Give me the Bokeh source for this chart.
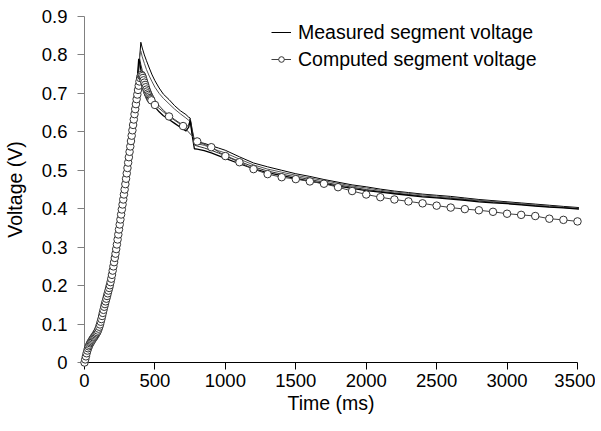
from bokeh.plotting import figure
from bokeh.models import Range1d, FixedTicker, Legend, LegendItem
from bokeh.embed import file_html
from bokeh.resources import INLINE

# ---------------- data ----------------
x_ticks = [0, 500, 1000, 1500, 2000, 2500, 3000, 3500]
y_ticks = [0, 0.1, 0.2, 0.3, 0.4, 0.5, 0.6, 0.7, 0.8, 0.9]
y_tick_labels = ["0", "0.1", "0.2", "0.3", "0.4", "0.5", "0.6", "0.7", "0.8", "0.9"]

# computed segment voltage (time in ms, voltage in V)
comp_t = [0, 5, 10, 15, 20, 25, 30, 35, 40, 45,
          50, 55, 60, 65, 70, 75, 80, 85, 90, 95,
          100, 105, 110, 115, 120, 125, 130, 135, 140, 145,
          150, 155, 160, 165, 170, 175, 180, 185, 190, 195,
          200, 205, 210, 215, 220, 225, 230, 235, 240, 245,
          250, 255, 260, 265, 270, 275, 280, 285, 290, 295,
          300, 305, 310, 315, 320, 325, 330, 335, 340, 345,
          350, 355, 360, 365, 370, 375, 380, 385, 390, 395,
          400, 405, 410, 415, 420, 425, 430, 435, 440, 445,
          450, 455, 460, 465, 470, 475,
          500, 600, 700, 800, 900, 1000, 1100, 1200, 1300, 1400,
          1500, 1600, 1700, 1800, 1900, 2000, 2100, 2200, 2300, 2400,
          2500, 2600, 2700, 2800, 2900, 3000, 3100, 3200, 3300, 3400, 3500]
comp_v = [0.000, 0.008, 0.016, 0.024, 0.031, 0.037, 0.042, 0.046, 0.050, 0.053,
          0.056, 0.059, 0.062, 0.065, 0.067, 0.070, 0.073, 0.076, 0.079, 0.083,
          0.088, 0.093, 0.099, 0.106, 0.113, 0.121, 0.129, 0.137, 0.145, 0.152,
          0.159, 0.166, 0.173, 0.180, 0.187, 0.194, 0.201, 0.209, 0.218, 0.228,
          0.239, 0.250, 0.261, 0.272, 0.283, 0.295, 0.307, 0.320, 0.333, 0.346,
          0.359, 0.372, 0.385, 0.398, 0.411, 0.424, 0.437, 0.450, 0.464, 0.478,
          0.492, 0.506, 0.520, 0.534, 0.548, 0.562, 0.576, 0.590, 0.604, 0.618,
          0.632, 0.646, 0.659, 0.672, 0.685, 0.697, 0.709, 0.720, 0.731, 0.740,
          0.746, 0.748, 0.745, 0.740, 0.734, 0.728, 0.722, 0.716, 0.710, 0.705,
          0.700, 0.696, 0.692, 0.688, 0.685, 0.682,
          0.670, 0.640, 0.615, 0.575, 0.560, 0.537, 0.521, 0.503, 0.490, 0.482,
          0.477, 0.471, 0.465, 0.456, 0.446, 0.437, 0.430, 0.424, 0.419, 0.414,
          0.408, 0.403, 0.399, 0.396, 0.392, 0.387, 0.384, 0.381, 0.374, 0.371, 0.367]

# measured segment voltages (four traces on a shared time base)
meas_t = [0, 10, 20, 30, 45, 60, 80, 100, 120, 140,
          160, 180, 200, 220, 240, 260, 280, 300, 320, 340,
          360, 375, 385, 392, 400, 410, 425, 440, 460, 480,
          500, 530, 560, 600, 640, 680, 720, 740, 750, 765,
          780, 800, 850, 900, 950, 1000, 1100, 1200, 1300, 1400,
          1500, 1600, 1700, 1800, 1900, 2000, 2100, 2200, 2300, 2400,
          2500, 2600, 2700, 2800, 2900, 3000, 3100, 3200, 3300, 3400, 3510]
meas_a = [0.000, 0.020, 0.035, 0.042, 0.050, 0.058, 0.068, 0.085, 0.110, 0.140,
          0.170, 0.200, 0.235, 0.275, 0.325, 0.380, 0.435, 0.490, 0.550, 0.610,
          0.670, 0.720, 0.760, 0.795, 0.833, 0.818, 0.800, 0.785, 0.766, 0.748,
          0.733, 0.714, 0.698, 0.684, 0.668, 0.655, 0.645, 0.638, 0.636, 0.605,
          0.578, 0.574, 0.570, 0.564, 0.558, 0.552, 0.535, 0.519, 0.509, 0.500,
          0.491, 0.484, 0.476, 0.469, 0.462, 0.457, 0.451, 0.446, 0.442, 0.438,
          0.435, 0.432, 0.428, 0.424, 0.421, 0.418, 0.415, 0.412, 0.409, 0.406, 0.403]
meas_b = [0.000, 0.020, 0.035, 0.042, 0.050, 0.058, 0.068, 0.085, 0.110, 0.140,
          0.170, 0.200, 0.235, 0.275, 0.325, 0.380, 0.435, 0.490, 0.550, 0.610,
          0.670, 0.720, 0.765, 0.800, 0.810, 0.795, 0.778, 0.762, 0.745, 0.730,
          0.716, 0.700, 0.687, 0.673, 0.659, 0.647, 0.636, 0.630, 0.634, 0.600,
          0.572, 0.569, 0.565, 0.558, 0.551, 0.545, 0.529, 0.514, 0.503, 0.495,
          0.487, 0.480, 0.473, 0.466, 0.459, 0.454, 0.448, 0.444, 0.440, 0.436,
          0.433, 0.429, 0.426, 0.422, 0.419, 0.416, 0.413, 0.410, 0.407, 0.404, 0.401]
meas_c = [0.000, 0.020, 0.035, 0.042, 0.050, 0.058, 0.068, 0.085, 0.110, 0.140,
          0.170, 0.200, 0.235, 0.275, 0.325, 0.380, 0.435, 0.490, 0.550, 0.610,
          0.670, 0.725, 0.780, 0.790, 0.775, 0.760, 0.740, 0.722, 0.705, 0.692,
          0.682, 0.668, 0.656, 0.643, 0.632, 0.622, 0.612, 0.618, 0.632, 0.595,
          0.566, 0.563, 0.558, 0.552, 0.545, 0.538, 0.523, 0.509, 0.498, 0.490,
          0.483, 0.476, 0.469, 0.462, 0.456, 0.450, 0.445, 0.441, 0.437, 0.433,
          0.430, 0.427, 0.424, 0.420, 0.417, 0.414, 0.411, 0.408, 0.405, 0.403, 0.400]
meas_d = [0.000, 0.020, 0.035, 0.042, 0.050, 0.058, 0.068, 0.085, 0.110, 0.140,
          0.170, 0.200, 0.235, 0.275, 0.325, 0.380, 0.435, 0.490, 0.550, 0.615,
          0.680, 0.740, 0.790, 0.780, 0.762, 0.745, 0.722, 0.705, 0.688, 0.675,
          0.665, 0.652, 0.642, 0.632, 0.622, 0.612, 0.602, 0.612, 0.630, 0.590,
          0.556, 0.555, 0.551, 0.545, 0.538, 0.531, 0.517, 0.504, 0.494, 0.486,
          0.479, 0.472, 0.466, 0.459, 0.453, 0.447, 0.443, 0.439, 0.435, 0.431,
          0.428, 0.425, 0.422, 0.418, 0.415, 0.413, 0.410, 0.407, 0.404, 0.402, 0.399]

assert len(comp_t) == len(comp_v)
for tr in (meas_a, meas_b, meas_c, meas_d):
    assert len(tr) == len(meas_t)

FONT = "Liberation Sans"

p = figure(width=595, height=428, output_backend="svg", toolbar_location=None,
           x_range=Range1d(0, 3500), y_range=Range1d(0, 0.9),
           min_border_left=81, min_border_right=18, min_border_top=16,
           min_border_bottom=66)
p.outline_line_color = None
p.xgrid.visible = False
p.ygrid.visible = False
p.background_fill_color = "white"
p.border_fill_color = "white"

# axes
p.xaxis.ticker = FixedTicker(ticks=x_ticks)
p.yaxis.ticker = FixedTicker(ticks=y_ticks)
p.yaxis.major_label_overrides = dict(zip(y_ticks, y_tick_labels))
for ax in (p.xaxis[0], p.yaxis[0]):
    ax.minor_tick_line_color = None
    ax.major_tick_in = 0
    ax.major_tick_out = 7
    ax.major_label_text_font = FONT
    ax.major_label_text_font_size = "18.5px"
    ax.major_label_text_color = "black"
    ax.axis_label_text_font = FONT
    ax.axis_label_text_font_size = "19.5px"
    ax.axis_label_text_font_style = "normal"
    ax.axis_label_text_color = "black"
p.xaxis.axis_line_color = "black"
p.xaxis.major_tick_line_color = "black"
p.yaxis.axis_line_color = "#808080"
p.yaxis.major_tick_line_color = "#808080"
p.xaxis.axis_label = "Time (ms)"
p.yaxis.axis_label = "Voltage (V)"
p.xaxis.major_label_standoff = 4
p.yaxis.major_label_standoff = 10
p.xaxis.axis_label_standoff = 2
p.yaxis.axis_label_standoff = 13

# measured traces
ra = p.line(meas_t, meas_a, line_color="black", line_width=1, level="overlay")
p.line(meas_t, meas_b, line_color="#555555", line_width=1, level="overlay")
p.line(meas_t, meas_c, line_color="#333333", line_width=1, level="overlay")
p.line(meas_t, meas_d, line_color="black", line_width=1.3, level="overlay")

# computed trace
rcl = p.line(comp_t, comp_v, line_color="#404040", line_width=1, level="overlay")
rcs = p.scatter(comp_t, comp_v, marker="circle", size=7.5, fill_color="white",
                line_color="#333333", line_width=1, level="overlay")

legend = Legend(items=[LegendItem(label="Measured segment voltage", renderers=[ra]),
                       LegendItem(label="Computed segment voltage", renderers=[rcl, rcs])],
                location=(187, 291), orientation="vertical",
                border_line_color=None, background_fill_alpha=0,
                padding=0, margin=0, spacing=3,
                glyph_width=20, glyph_height=14, label_height=24,
                label_standoff=7, label_text_font=FONT,
                label_text_font_size="19.5px", label_text_color="black")
p.add_layout(legend)

open("out.html", "w").write(file_html(p, INLINE))
